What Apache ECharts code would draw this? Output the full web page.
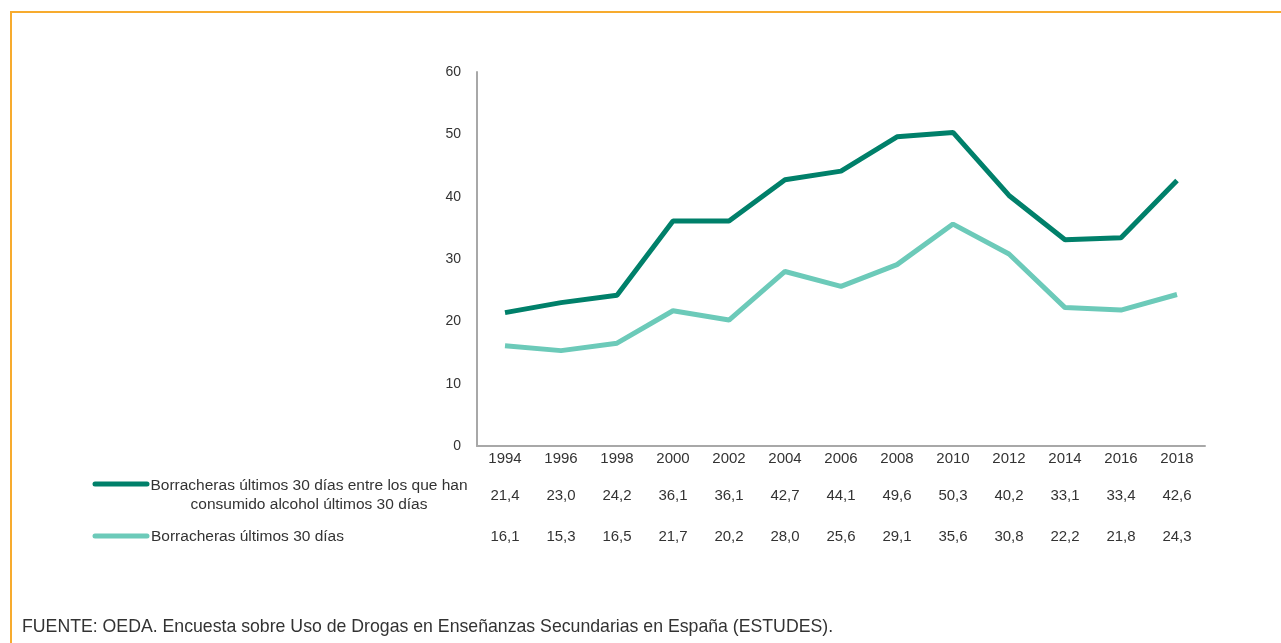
<!DOCTYPE html>
<html><head><meta charset="utf-8">
<script src="https://cdn.jsdelivr.net/npm/echarts@6/dist/echarts.min.js"></script>
<style>html,body{margin:0;padding:0;background:#fff}#c{width:1281px;height:643px}</style>
</head><body><div id="c"></div>
<script>
const years = ['1994','1996','1998','2000','2002','2004','2006','2008','2010','2012','2014','2016','2018'];
const alcoholUsers = [21.4,23.0,24.2,36.1,36.1,42.7,44.1,49.6,50.3,40.2,33.1,33.4,42.6];
const allStudents = [16.1,15.3,16.5,21.7,20.2,28.0,25.6,29.1,35.6,30.8,22.2,21.8,24.3];
const seriesNames = ['Borracheras últimos 30 días entre los que han\nconsumido alcohol últimos 30 días','Borracheras últimos 30 días'];
const source = 'FUENTE: OEDA. Encuesta sobre Uso de Drogas en Enseñanzas Secundarias en España (ESTUDES).';
const yTicks = {min:0,max:60,interval:10};

const DARK = '#00806a', LIGHT = '#6ccab9', FONT = '"Liberation Sans", Arial, sans-serif', TXT = '#333';
const fmt = v => v.toFixed(1).replace('.', ',');

const chart = echarts.init(document.getElementById('c'));
const valAxis = (vals, offset) => ({
  type:'category', data: vals.map(fmt), gridIndex:0, position:'bottom', offset: offset,
  axisLine:{show:false}, axisTick:{show:false},
  axisLabel:{color:TXT, fontFamily:FONT, fontSize:15, margin:5}
});
chart.setOption({
  animation:false,
  grid:{left:477,right:76,top:72,bottom:197},
  xAxis:[
    {type:'category', data:years, boundaryGap:true,
     axisLine:{lineStyle:{color:'#a8a8a8',width:2}}, axisTick:{show:false},
     axisLabel:{color:TXT, fontFamily:FONT, fontSize:15, margin:5}},
    valAxis(alcoholUsers, 37),
    valAxis(allStudents, 78)
  ],
  yAxis:{type:'value', min:yTicks.min, max:yTicks.max, interval:yTicks.interval,
    axisLine:{show:true, lineStyle:{color:'#a8a8a8',width:2}}, axisTick:{show:false},
    splitLine:{show:false},
    axisLabel:{color:TXT, fontFamily:FONT, fontSize:14, margin:16}},
  series:[
    {name:seriesNames[0], type:'line', data:alcoholUsers, showSymbol:false, symbol:'none',
     lineStyle:{color:DARK,width:5}, itemStyle:{color:DARK}},
    {name:seriesNames[1], type:'line', data:allStudents, showSymbol:false, symbol:'none',
     lineStyle:{color:LIGHT,width:5}, itemStyle:{color:LIGHT}}
  ],
  graphic:[
    {type:'polyline', shape:{points:[[11,643],[11,12],[1281,12]]}, style:{stroke:'#f7ab2e', lineWidth:2, fill:null}},
    {type:'line', shape:{x1:95,y1:484,x2:147,y2:484}, style:{stroke:DARK, lineWidth:5, lineCap:'round'}},
    {type:'text', x:309, y:476, style:{text:seriesNames[0], fill:TXT, font:'15.5px '+FONT, align:'center', verticalAlign:'top', lineHeight:19}},
    {type:'line', shape:{x1:95,y1:536,x2:147,y2:536}, style:{stroke:LIGHT, lineWidth:5, lineCap:'round'}},
    {type:'text', x:151, y:537, style:{text:seriesNames[1], fill:TXT, font:'15.5px '+FONT, align:'left', verticalAlign:'middle'}},
    {type:'text', x:22, y:627, style:{text:source, fill:TXT, font:'17.7px '+FONT, align:'left', verticalAlign:'middle'}}
  ]
});
</script></body></html>
